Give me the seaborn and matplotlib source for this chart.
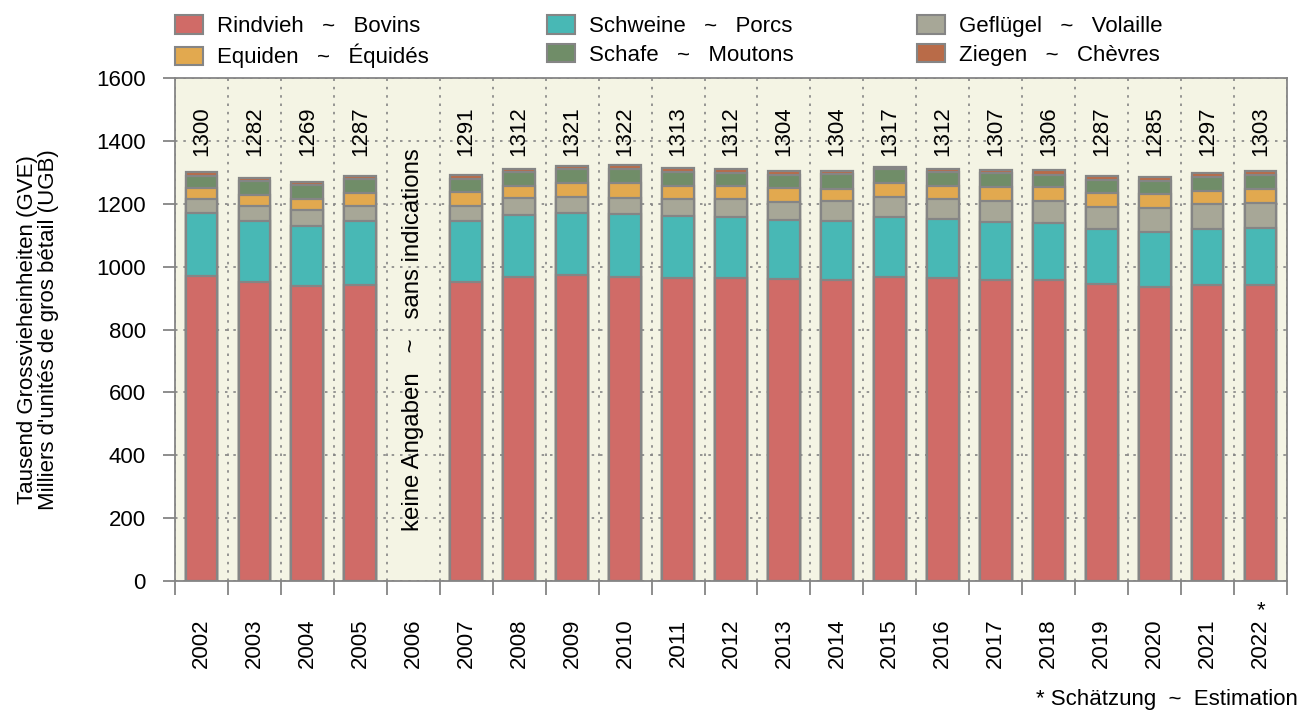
import numpy as np
import pandas as pd
import matplotlib
matplotlib.use("Agg")
import matplotlib.pyplot as plt
import seaborn as sns
from matplotlib.patches import Patch
from matplotlib.ticker import FixedLocator, MultipleLocator

# ---------------- data ----------------
years = ["2002", "2003", "2004", "2005", "2006", "2007", "2008", "2009", "2010", "2011",
         "2012", "2013", "2014", "2015", "2016", "2017", "2018", "2019", "2020", "2021", "2022"]
totals = [1300, 1282, 1269, 1287, None, 1291, 1312, 1321, 1322, 1313,
          1312, 1304, 1304, 1317, 1312, 1307, 1306, 1287, 1285, 1297, 1303]
rindvieh = [971, 952, 938, 941, None, 950, 968, 973, 966, 963,
            965, 960, 957, 967, 965, 957, 957, 944, 936, 941, 942]
schweine = [198, 194, 192, 205, None, 196, 196, 196, 200, 198,
            192, 188, 189, 191, 185, 186, 183, 176, 175, 178, 180]
gefluegel = [45, 46, 50, 46, None, 46, 53, 51, 52, 53,
             57, 58, 63, 64, 65, 66, 69, 70, 76, 79, 81]
equiden = [35, 35, 35, 41, None, 44, 39, 45, 49, 44,
           42, 43, 39, 43, 42, 45, 43, 43, 43, 42, 44]
schafe = [40, 46, 44, 45, None, 44, 46, 45, 43, 44,
          42, 44, 46, 44, 45, 44, 41, 44, 43, 46, 44]
ziegen = [11, 9, 10, 9, None, 11, 10, 11, 12, 11,
          14, 11, 10, 8, 10, 9, 13, 10, 12, 11, 12]

series_labels = ["Rindvieh   ~   Bovins", "Schweine   ~   Porcs", "Geflügel   ~   Volaille",
                 "Equiden   ~   Équidés", "Schafe   ~   Moutons", "Ziegen   ~   Chèvres"]
series_values = [rindvieh, schweine, gefluegel, equiden, schafe, ziegen]
colors = ["#D06B67", "#48B8B5", "#A7A797", "#E2A94F", "#708D68", "#B96B48"]
missing_note = "keine Angaben   ~   sans indications"
footnote = "* Schätzung  ~  Estimation"
ylabel = "Tausend Grossvieheinheiten (GVE)\nMilliers d'unités de gros bétail (UGB)"

# ---------------- style ----------------
sns.set_theme(style="white")
plt.rcParams["font.family"] = ["Liberation Sans", "DejaVu Sans"]
plt.rcParams["text.color"] = "black"
plt.rcParams["xtick.labelcolor"] = "black"
plt.rcParams["ytick.labelcolor"] = "black"
plt.rcParams["axes.labelcolor"] = "black"
FS = 16
grey = "#858585"

fig = plt.figure(figsize=(13.03, 7.13), dpi=100)
ax = fig.add_axes([175 / 1303, 1 - 581 / 713, (1287 - 175) / 1303, (581 - 78) / 713])
ax.set_facecolor("#F4F4E4")

# cumulative stacks
cum = np.zeros(len(years))
cums = []
for vals in series_values:
    v = np.array([np.nan if x is None else x for x in vals], dtype=float)
    cum = cum + v
    cums.append(cum.copy())

for i in range(len(series_values) - 1, -1, -1):
    d = pd.DataFrame({"year": years, "val": cums[i]}).dropna()
    sns.barplot(data=d, x="year", y="val", order=years, color=colors[i], saturation=1,
                width=0.6, edgecolor=grey, linewidth=1.6, errorbar=None, ax=ax, zorder=3)

ax.set_xlim(-0.5, len(years) - 0.5)
ax.set_ylim(0, 1600)
ax.yaxis.set_major_locator(MultipleLocator(200))
ax.set_xticks(range(len(years)))
ax.set_xticklabels(years, rotation=90, fontsize=FS)
ax.xaxis.set_minor_locator(FixedLocator(np.arange(-0.5, len(years), 1)))
ax.tick_params(axis="x", which="major", length=0, pad=27)
ax.tick_params(axis="x", which="minor", length=10, width=1.3, color=grey, direction="out", bottom=True)
ax.tick_params(axis="y", which="major", length=9, width=1.3, color=grey, direction="out", left=True,
               labelsize=FS, pad=12)
ax.set_xlabel("")
ax.set_ylabel(ylabel, fontsize=FS, labelpad=27, linespacing=1.0)

ax.set_axisbelow(True)
ax.grid(False)
ax.grid(True, axis="y", which="major", color=grey, linestyle=(0, (1.5, 3.5)), linewidth=1.2, zorder=0)
ax.grid(True, axis="x", which="minor", color=grey, linestyle=(0, (1.5, 3.5)), linewidth=1.2, zorder=0)
for s in ax.spines.values():
    s.set_color(grey)
    s.set_linewidth(1.3)
    s.set_visible(True)

# total labels
for i, t in enumerate(totals):
    if t is not None:
        ax.text(i, 1352, str(t), rotation=90, ha="center", va="bottom", fontsize=FS, zorder=5)

ax.text(years.index("2006"), 767, missing_note, rotation=90, ha="center", va="center",
        fontsize=17.3, zorder=5)

# asterisk for estimate
ax.text(len(years) - 1, -0.038, "*", transform=ax.get_xaxis_transform(), ha="center", va="top",
        fontsize=FS, clip_on=False)

fig.text(1298 / 1303, 1 - 700 / 713, footnote, ha="right", va="center", fontsize=FS)

# legend: three columns placed individually
col_x = [171, 543, 913]
for c in range(3):
    idx = [c, c + 3]
    handles = [Patch(facecolor=colors[k], edgecolor=grey, linewidth=1.5) for k in idx]
    labels = [series_labels[k] for k in idx]
    fig.legend(handles, labels, ncol=1, loc="upper left",
               bbox_to_anchor=(col_x[c] / 1303, 1 - 11 / 713),
               frameon=False, fontsize=FS, handlelength=1.25, handleheight=0.9, handletextpad=0.6,
               labelspacing=0.3, borderaxespad=0, borderpad=0.2)

fig.savefig("out.png", dpi=100)
